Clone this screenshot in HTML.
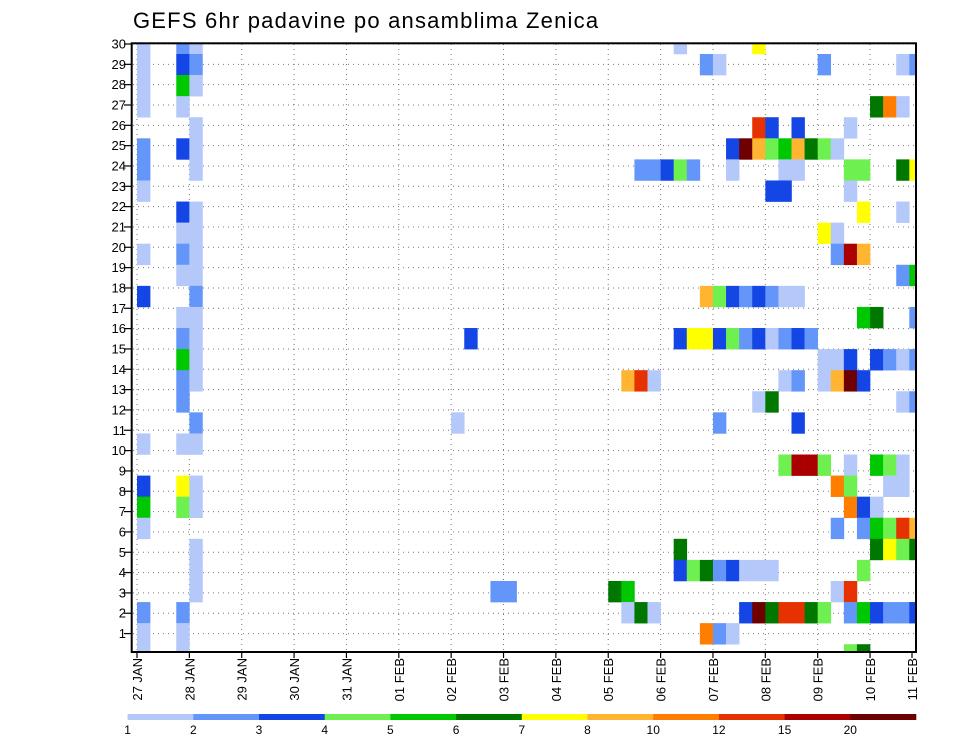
<!DOCTYPE html>
<html><head><meta charset="utf-8"><style>
html,body{margin:0;padding:0;background:#fff;}
svg{display:block;font-family:"Liberation Sans",sans-serif;}
</style></head><body>
<svg id="chart" width="960" height="742" viewBox="0 0 960 742" xmlns="http://www.w3.org/2000/svg">
<text x="133" y="28" font-size="22" letter-spacing="1.2" fill="#000">GEFS 6hr padavine po ansamblima Zenica</text>
<defs><clipPath id="pc"><rect x="132" y="43.3" width="784" height="608.7"/></clipPath></defs>
<g id="grid"></g>
<g id="cells" clip-path="url(#pc)"></g>
<rect x="131.7" y="43.3" width="784.3" height="608.7" fill="none" stroke="#000" stroke-width="2"/>
<g id="axes"></g>
<g id="legend"></g>
</svg>
<script>
// data
const dayLabels = ["27 JAN","28 JAN","29 JAN","30 JAN","31 JAN","01 FEB","02 FEB","03 FEB","04 FEB","05 FEB","06 FEB","07 FEB","08 FEB","09 FEB","10 FEB","11 FEB"];
const memberLabels = [1,2,3,4,5,6,7,8,9,10,11,12,13,14,15,16,17,18,19,20,21,22,23,24,25,26,27,28,29,30];
const levelBounds = [1,2,3,4,5,6,7,8,10,12,15,20];
const levelColors = ["#b4c8fa","#6496fa","#1446e6","#6ef050","#00c800","#007800","#ffff00","#ffb432","#ff7d00","#e63200","#aa0000","#6e0000"];
// cells: row index (0 = top) ; time step (6h) ; precipitation mm
const cellRow = [];
const cellStep = [];
const cellValue = [];
const rowsData = [
 [[0,1.5],[3,2.5],[4,1.5],[41,1.5],[47,7.5]],
 [[0,1.5],[3,3.5],[4,2.5],[43,2.5],[44,1.5],[52,2.5],[58,1.5],[59,2.5]],
 [[0,1.5],[3,5.5],[4,1.5]],
 [[0,1.5],[3,1.5],[56,6.5],[57,11],[58,1.5]],
 [[4,1.5],[47,13],[48,3.5],[50,3.5],[54,1.5]],
 [[0,2.5],[3,3.5],[4,1.5],[45,3.5],[46,25],[47,9],[48,4.5],[49,5.5],[50,9],[51,6.5],[52,4.5],[53,1.5]],
 [[0,2.5],[4,1.5],[38,2.5],[39,2.5],[40,3.5],[41,4.5],[42,2.5],[45,1.5],[49,1.5],[50,1.5],[54,4.5],[55,4.5],[58,6.5],[59,7.5]],
 [[0,1.5],[48,3.5],[49,3.5],[54,1.5]],
 [[3,3.5],[4,1.5],[55,7.5],[58,1.5]],
 [[3,1.5],[4,1.5],[52,7.5],[53,1.5]],
 [[0,1.5],[3,2.5],[4,1.5],[53,2.5],[54,17],[55,9]],
 [[3,1.5],[4,1.5],[58,2.5],[59,5.5]],
 [[0,3.5],[4,2.5],[43,9],[44,4.5],[45,3.5],[46,2.5],[47,3.5],[48,2.5],[49,1.5],[50,1.5]],
 [[3,1.5],[4,1.5],[55,5.5],[56,6.5],[59,2.5]],
 [[3,2.5],[4,1.5],[25,3.5],[41,3.5],[42,7.5],[43,7.5],[44,3.5],[45,4.5],[46,2.5],[47,3.5],[48,1.5],[49,2.5],[50,3.5],[51,2.5]],
 [[3,5.5],[4,1.5],[52,1.5],[53,1.5],[54,3.5],[56,3.5],[57,2.5],[58,1.5],[59,2.5]],
 [[3,2.5],[4,1.5],[37,9],[38,13],[39,1.5],[49,1.5],[50,2.5],[52,1.5],[53,9],[54,25],[55,3.5]],
 [[3,2.5],[47,1.5],[48,6.5],[58,1.5],[59,2.5]],
 [[4,2.5],[24,1.5],[44,2.5],[50,3.5]],
 [[0,1.5],[3,1.5],[4,1.5]],
 [[49,4.5],[50,17],[51,17],[52,4.5],[54,1.5],[56,5.5],[57,4.5],[58,1.5]],
 [[0,3.5],[3,7.5],[4,1.5],[53,11],[54,4.5],[57,1.5],[58,1.5]],
 [[0,5.5],[3,4.5],[4,1.5],[54,11],[55,3.5],[56,1.5]],
 [[0,1.5],[53,2.5],[55,2.5],[56,5.5],[57,4.5],[58,13],[59,9]],
 [[4,1.5],[41,6.5],[56,6.5],[57,7.5],[58,4.5],[59,6.5]],
 [[4,1.5],[41,3.5],[42,4.5],[43,6.5],[44,2.5],[45,3.5],[46,1.5],[47,1.5],[48,1.5],[55,4.5]],
 [[4,1.5],[27,2.5],[28,2.5],[36,6.5],[37,5.5],[53,1.5],[54,13]],
 [[0,2.5],[3,2.5],[37,1.5],[38,6.5],[39,1.5],[46,3.5],[47,25],[48,6.5],[49,13],[50,13],[51,6.5],[52,4.5],[54,2.5],[55,5.5],[56,3.5],[57,2.5],[58,2.5],[59,3.5]],
 [[0,1.5],[3,1.5],[43,11],[44,2.5],[45,1.5]],
 [[0,1.5],[3,1.5],[54,4.5],[55,6.5]]
];
rowsData.forEach((r,i)=>r.forEach(c=>{cellRow.push(i);cellStep.push(c[0]);cellValue.push(c[1]);}));

const NS="http://www.w3.org/2000/svg";
const X0=137, STEP=13.09, DAY=STEP*4;
const xStep = s => X0 + s*STEP;
const xDay = d => X0 + d*DAY;
const yRowTop = m => 32.9 + m*21.08;
const ROWH = 21.08;
const yLabel = v => 44 + (30-v)*20.33;
function colorFor(v){let idx=0;for(let i=0;i<levelBounds.length;i++){if(v>=levelBounds[i])idx=i;}return levelColors[idx];}
function mk(tag,attrs,parent){const e=document.createElementNS(NS,tag);for(const k in attrs)e.setAttribute(k,attrs[k]);parent.appendChild(e);return e;}

const grid=document.getElementById('grid');
dayLabels.forEach((d,i)=>{const x=xDay(i); if(x<916){
 const l=mk('line',{x1:x,y1:44,x2:x,y2:652,stroke:'#777','stroke-width':1,'stroke-dasharray':'1 4'},grid);
 
 }});
memberLabels.forEach(v=>{const y=yLabel(v);
 const l=mk('line',{x1:133,y1:y,x2:915,y2:y,stroke:'#777','stroke-width':1,'stroke-dasharray':'1 4'},grid);
 
 });

const cells=document.getElementById('cells');
for(let i=0;i<cellValue.length;i++){
 const r=mk('rect',{x:xStep(cellStep[i]),y:yRowTop(cellRow[i]),width:STEP+0.3,height:ROWH+0.3,fill:colorFor(cellValue[i])},cells);
 
 
}

const axes=document.getElementById('axes');
memberLabels.forEach(v=>{const y=yLabel(v);
 const t=mk('line',{x1:124,y1:y,x2:132,y2:y,stroke:'#000','stroke-width':1.2},axes);
 
 
 const tx=mk('text',{x:126,y:y+4.5,'font-size':13,'text-anchor':'end',fill:'#000'},axes);
 tx.textContent=v;
 
 });
dayLabels.forEach((d,i)=>{let x=xDay(i); if(x>916)x=912;
 const t=mk('line',{x1:x,y1:652,x2:x,y2:658,stroke:'#000','stroke-width':1.2},axes);
 
 
 const tx=mk('text',{x:0,y:0,'font-size':13,'text-anchor':'end',fill:'#000',transform:`translate(${x+5},658) rotate(-90)`},axes);
 tx.textContent=d;
 
 });

const legend=document.getElementById('legend');
const LX0=127.6, LW=(916-127.6)/12;
levelColors.forEach((c,i)=>{
 const r=mk('rect',{x:LX0+i*LW,y:714,width:LW+0.3,height:6,fill:c},legend);
 
 
 const t=mk('text',{x:LX0+i*LW,y:734,'font-size':12,'text-anchor':'middle',fill:'#000'},legend);
 t.textContent=levelBounds[i];
 
 });
</script>
</body></html>
